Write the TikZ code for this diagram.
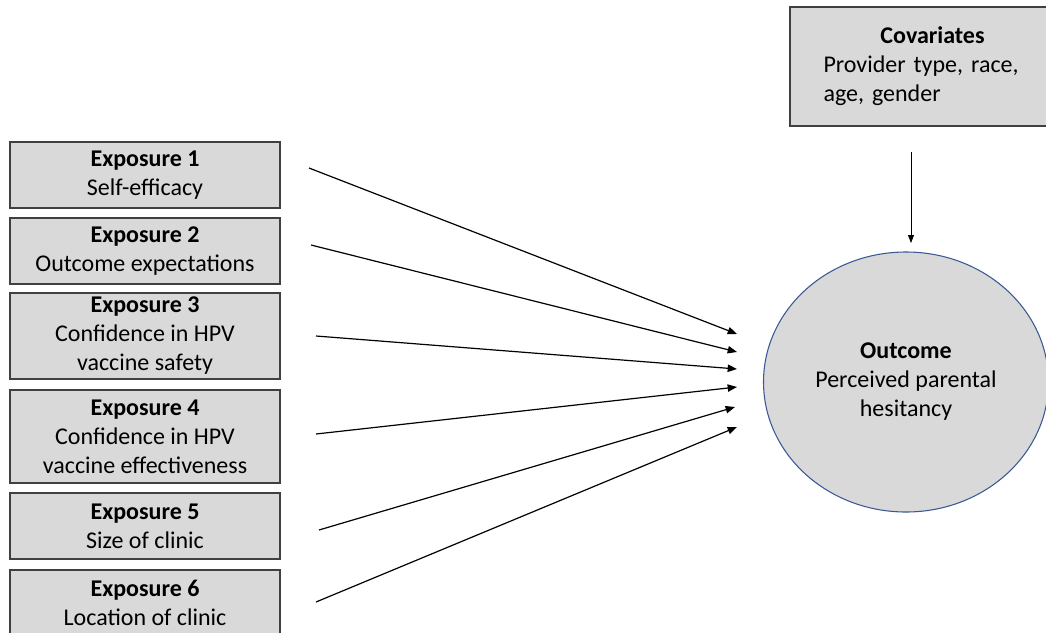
\documentclass[tikz,border=0pt]{standalone}
\usepackage{fontspec}
\setmainfont{Carlito}
\usetikzlibrary{shapes.geometric, arrows.meta, positioning}
\definecolor{rimblue}{HTML}{3B5894}

\begin{document}
\begin{tikzpicture}[x=0.75pt,y=-0.75pt,
	font=\fontsize{18}{21.75}\selectfont,
	expbox/.style={draw=black!75, line width=1pt, fill=gray!30,
		minimum width=202.5pt, minimum height=49.5pt, align=center, inner sep=1pt},
	link/.style={-{Triangle[length=7pt,width=5.5pt]}, line width=0.9pt}]
	\useasboundingbox (0,0) rectangle (1046,632);
	% exposures
	\node[expbox] (e1) at (145,175) {\textbf{Exposure 1}\\Self-efficacy};
	\node[expbox] (e2) at (145,251) {\textbf{Exposure 2}\\Outcome expectations};
	\node[expbox, minimum height=64.5pt] (e3) at (145,336)
		{\textbf{Exposure 3}\\Confidence in HPV\\vaccine safety};
	\node[expbox, minimum height=69.75pt] (e4) at (145,436.5)
		{\textbf{Exposure 4}\\Confidence in HPV\\vaccine effectiveness};
	\node[expbox] (e5) at (145,526) {\textbf{Exposure 5}\\Size of clinic};
	\node[expbox] (e6) at (145,603) {\textbf{Exposure 6}\\Location of clinic};
	% covariates and outcome
	\node[expbox, minimum width=213.75pt, minimum height=89.25pt,
		text width=163.5pt, align=left] (cov) at (932.5,66.5)
		{\makebox[\linewidth][c]{\textbf{Covariates}}\\Provider type, race,\\age, gender};
	\node[ellipse, draw=rimblue, line width=0.8pt, fill=gray!30,
		minimum width=213.75pt, minimum height=195pt, align=center] (out) at (906,382)
		{\textbf{Outcome}\\Perceived parental\\hesitancy};
	% arrow ends
	\coordinate (s1) at (309,168);  \coordinate (t1) at (737,334);
	\coordinate (s2) at (311,245);  \coordinate (t2) at (737,352);
	\coordinate (s3) at (316,336);  \coordinate (t3) at (737,369);
	\coordinate (s4) at (316,434);  \coordinate (t4) at (737,387);
	\coordinate (s5) at (319,530);  \coordinate (t5) at (735,407);
	\coordinate (s6) at (316,602);  \coordinate (t6) at (737,427);
	\coordinate (c0) at (911,152);  \coordinate (c1) at (911,243);
	\foreach \i in {1,...,6}
		\draw[link] (s\i) -- (t\i);
	\draw[-{Triangle[length=6pt,width=4.5pt]}, line width=0.6pt] (c0) -- (c1);
\end{tikzpicture}
\end{document}
